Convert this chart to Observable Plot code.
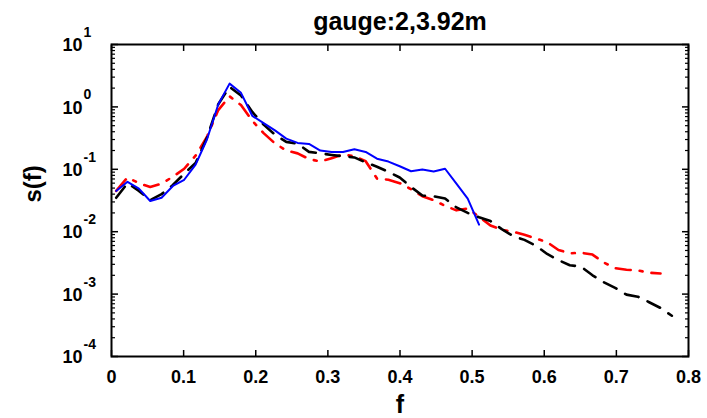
<!DOCTYPE html>
<html><head><meta charset="utf-8">
<script src="https://cdn.jsdelivr.net/npm/d3@7"></script>
<script src="https://cdn.jsdelivr.net/npm/@observablehq/plot@0.6"></script>
<style>body{margin:0;background:#fff}</style>
</head><body><div id="chart"></div>
<script>
const title = "gauge:2,3.92m";
const xLabel = "f";
const yLabel = "s(f)";

const freq = [0.0065, 0.0222, 0.0380, 0.0537, 0.0694, 0.0851, 0.1008, 0.1166, 0.1323, 0.1480,
  0.1637, 0.1795, 0.1952, 0.2109, 0.2266, 0.2423, 0.2581, 0.2738, 0.2895, 0.3052,
  0.3210, 0.3367, 0.3524, 0.3681, 0.3839, 0.3996, 0.4153, 0.4310, 0.4467, 0.4625,
  0.4782, 0.4939, 0.5096, 0.5254, 0.5411, 0.5568, 0.5725, 0.5882, 0.6040, 0.6197,
  0.6354, 0.6511, 0.6669, 0.6826, 0.6983, 0.7140, 0.7297, 0.7455, 0.7612, 0.7769];

const sBlue = [0.045, 0.063, 0.049, 0.031, 0.035, 0.054, 0.068, 0.119, 0.30, 1.09,
  2.36, 1.68, 0.72, 0.55, 0.42, 0.31, 0.265, 0.255, 0.20, 0.19,
  0.19, 0.21, 0.19, 0.148, 0.133, 0.112, 0.093, 0.099, 0.092, 0.102,
  0.059, 0.034, 0.013];

const sBlack = [0.035, 0.060, 0.045, 0.032, 0.040, 0.056, 0.085, 0.126, 0.32, 1.1,
  2.1, 1.52, 0.83, 0.52, 0.36, 0.275, 0.257, 0.19, 0.18, 0.17,
  0.162, 0.155, 0.129, 0.11, 0.091, 0.074, 0.052, 0.038, 0.037, 0.034,
  0.0245, 0.020, 0.017, 0.0148, 0.011, 0.0085, 0.0074, 0.0060, 0.0044, 0.0035,
  0.0029, 0.00275, 0.0020, 0.00155, 0.00126, 0.00098, 0.00091, 0.00074, 0.00060, 0.00045];

const sRed = [0.045, 0.074, 0.060, 0.052, 0.059, 0.076, 0.102, 0.166, 0.33, 0.89,
  1.48, 1.07, 0.60, 0.38, 0.26, 0.20, 0.18, 0.146, 0.133, 0.151,
  0.172, 0.162, 0.135, 0.071, 0.068, 0.060, 0.048, 0.037, 0.032, 0.026,
  0.022, 0.0235, 0.0174, 0.0126, 0.0107, 0.0100, 0.0089, 0.0078, 0.0068, 0.0051,
  0.0045, 0.0046, 0.0043, 0.0032, 0.0026, 0.00245, 0.0024, 0.0022, 0.00214];

const xTicks = [0, 0.1, 0.2, 0.3, 0.4, 0.5, 0.6, 0.7, 0.8];
const xTickLabels = ["0", "0.1", "0.2", "0.3", "0.4", "0.5", "0.6", "0.7", "0.8"];
const yMajor = [1e-4, 1e-3, 1e-2, 1e-1, 1, 10];
const yBase = ["10", "10", "10", "10", "10", "10"];
const yExp = ["-4", "-3", "-2", "-1", "0", "1"];
const yMinor = [2e-4, 3e-4, 4e-4, 5e-4, 6e-4, 7e-4, 8e-4, 9e-4,
  2e-3, 3e-3, 4e-3, 5e-3, 6e-3, 7e-3, 8e-3, 9e-3,
  2e-2, 3e-2, 4e-2, 5e-2, 6e-2, 7e-2, 8e-2, 9e-2,
  2e-1, 3e-1, 4e-1, 5e-1, 6e-1, 7e-1, 8e-1, 9e-1,
  2, 3, 4, 5, 6, 7, 8, 9];

const rows = (vals) => vals.map((s, i) => ({f: freq[i], s}));
const font = "'Liberation Sans', Arial, sans-serif";
const blank = () => "";

const chart = Plot.plot({
  width: 707, height: 418,
  marginTop: 44, marginBottom: 62, marginLeft: 111, marginRight: 19,
  x: {domain: [0, 0.8]},
  y: {type: "log", domain: [1e-4, 10]},
  style: {fontFamily: font, background: "#fff", color: "#000"},
  marks: [
    Plot.line(rows(sRed), {x: "f", y: "s", stroke: "#ff0000", strokeWidth: 2.6, strokeDasharray: "15,9,3,9"}),
    Plot.line(rows(sBlack), {x: "f", y: "s", stroke: "#000000", strokeWidth: 2.6, strokeDasharray: "14,10"}),
    Plot.line(rows(sBlue), {x: "f", y: "s", stroke: "#0000ff", strokeWidth: 2}),
    Plot.axisX({anchor: "bottom", ticks: xTicks, tickSize: -6, tickFormat: blank, label: null, strokeWidth: 1.5}),
    Plot.axisX({anchor: "top", ticks: xTicks, tickSize: -6, tickFormat: blank, label: null, strokeWidth: 1.5}),
    Plot.axisY({anchor: "left", ticks: yMajor, tickSize: -7, tickFormat: blank, label: null, strokeWidth: 1.5}),
    Plot.axisY({anchor: "right", ticks: yMajor, tickSize: -7, tickFormat: blank, label: null, strokeWidth: 1.5}),
    Plot.axisY({anchor: "left", ticks: yMinor, tickSize: -4, tickFormat: blank, label: null, strokeWidth: 1.2}),
    Plot.axisY({anchor: "right", ticks: yMinor, tickSize: -4, tickFormat: blank, label: null, strokeWidth: 1.2}),
    Plot.frame({stroke: "#000", strokeWidth: 2}),
    Plot.text(xTicks, {x: d => d, text: (d, i) => xTickLabels[i], frameAnchor: "bottom", lineAnchor: "middle", dy: 21, fontSize: 18, fontWeight: "bold", fill: "#000"}),
    Plot.text(yMajor, {y: d => d, text: (d, i) => yBase[i], frameAnchor: "left", textAnchor: "end", lineAnchor: "middle", dx: -29, dy: 1, fontSize: 18, fontWeight: "bold", fill: "#000"}),
    Plot.text(yMajor, {y: d => d, text: (d, i) => yExp[i], frameAnchor: "left", textAnchor: "start", lineAnchor: "middle", dx: -28, dy: -12, fontSize: 14, fontWeight: "bold", fill: "#000"}),
    Plot.text([xLabel], {text: d => d, frameAnchor: "bottom", lineAnchor: "middle", dy: 48, fontSize: 25, fontWeight: "bold", fill: "#000"}),
    Plot.text([yLabel], {text: d => d, frameAnchor: "left", lineAnchor: "middle", rotate: -90, dx: -78, dy: 2, fontSize: 24, fontWeight: "bold", fill: "#000"}),
    Plot.text([title], {text: d => d, frameAnchor: "top", lineAnchor: "middle", dy: -23, fontSize: 25, fontWeight: "bold", fill: "#000"})
  ]
});
document.getElementById("chart").appendChild(chart);
</script>
</body></html>
